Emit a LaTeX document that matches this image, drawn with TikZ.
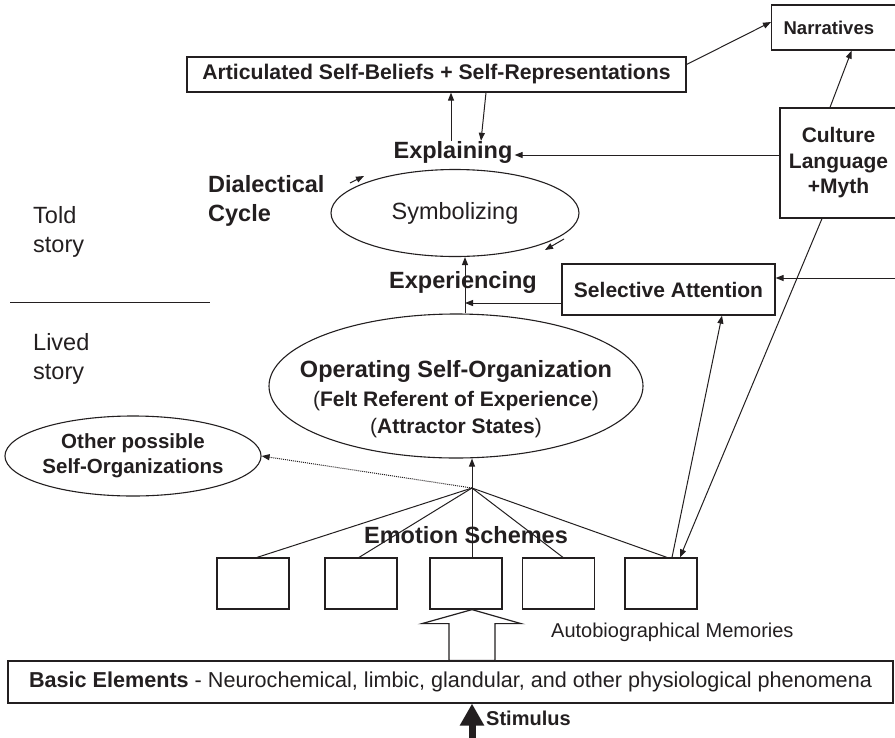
\documentclass[tikz,border=0pt]{standalone}
\usepackage{fontspec}
\setmainfont{Liberation Sans}
\usetikzlibrary{arrows.meta,calc,shapes.geometric}
\definecolor{ink}{HTML}{231F20}
\newcommand\fsz[2]{\fontsize{#1pt}{#2pt}\selectfont}
\begin{document}
\begin{tikzpicture}[x=1pt,y=-1pt,
  every node/.style={text=ink},
  box/.style={draw=ink, line width=1.2pt, inner sep=0pt, fill=white},
  ebox/.style={draw=ink, line width=1.2pt, minimum width=72pt, minimum height=51pt, inner sep=0pt},
  ell/.style={draw=ink, line width=1.1pt, ellipse, inner sep=0pt},
  lnk/.style={draw=ink, line width=1pt},
  arr/.style={draw=ink, line width=1pt, -{Triangle[length=8pt,width=6pt]}},
  lbl/.style={inner sep=0pt},
  bigb/.style={lbl, font=\fsz{23.5}{29}\bfseries},
  bigr/.style={lbl, font=\fsz{23.5}{29}}]
\clip (0,0) rectangle (895,737);
\fill[white] (0,0) rectangle (895,737);

% top boxes
\node[box, minimum width=499pt, minimum height=35pt, font=\fsz{21.2}{25}\bfseries] (art) at (436.5,74.5) {Articulated Self-Beliefs + Self-Representations};
\node[box, anchor=west, inner xsep=12pt, text width=102pt, align=left, minimum height=45pt, font=\fsz{18.5}{22}\bfseries] (nar) at (771,27.5) {Narratives};
\node[box, minimum width=117pt, minimum height=110pt, align=center, font=\fsz{21}{25.5}\bfseries] (cult) at (838.5,163) {Culture\\Language\\+Myth};
\node[box, minimum width=213pt, minimum height=51pt, font=\fsz{21}{25}\bfseries] (sel) at (668.5,289.5) {Selective Attention};

% symbolizing cycle
\node[ell, minimum width=248pt, minimum height=87pt, font=\fsz{23.5}{29}] (sym) at (455,213) {Symbolizing};
\node[bigb, inner xsep=2pt] (expl) at (453,152) {Explaining};
\node[bigb] (exper) at (463,282) {Experiencing};
\node[bigb, anchor=west, align=left] (dial) at (208,200.5) {Dialectical\\Cycle};

% left labels
\node[bigr, anchor=west, align=left] (told) at (33,232) {Told\\story};
\node[bigr, anchor=west, align=left] (lived) at (33,359) {Lived\\story};
\draw[ink, line width=1pt] (10,302) -- (210,302);

% operating self-organization
\node[ell, minimum width=374pt, minimum height=144pt] (ops) at (456,386) {};
\node[lbl, font=\fsz{23.5}{29}\bfseries] (ops1) at (456,371) {Operating Self-Organization};
\node[lbl, font=\fsz{21}{25}] (ops2) at (456,401) {(\textbf{Felt Referent of Experience})};
\node[lbl, font=\fsz{21}{25}] (ops3) at (456,428) {(\textbf{Attractor States})};

\node[ell, minimum width=252pt, minimum height=80pt, align=center, font=\fsz{20.5}{25}\bfseries] (oth) at (133,456) {Other possible\\Self-Organizations};

% emotion schemes
\node[bigb] (emo) at (466,535) {Emotion Schemes};
\node[ebox] (e1) at (253,583.5) {};
\node[ebox] (e2) at (361,583.5) {};
\node[ebox] (e3) at (466,583.5) {};
\node[ebox] (e4) at (558.5,583.5) {};
\node[ebox] (e5) at (661,583.5) {};

% basic elements
\node[box, minimum width=885pt, minimum height=42pt, font=\fsz{21.6}{25}] (basic) at (450.5,682) {\textbf{Basic Elements} - Neurochemical, limbic, glandular, and other physiological phenomena};
\node[lbl, anchor=west, font=\fsz{20}{24}] (auto) at (551,632) {Autobiographical Memories};
\node[lbl, anchor=west, font=\fsz{20}{24}\bfseries] (stim) at (486,718) {Stimulus};

% coordinates
\coordinate (hub) at (472,488);
\coordinate (vl) at ([xshift=9pt]ops.north);
\coordinate (sa) at ([yshift=-13.5pt]sel.west);
\coordinate (rin) at (900,278);
\coordinate (stim0) at (472,745);
\coordinate (ha) at (hub |- e3.south);
\coordinate (hb) at (hub |- basic.north);

% connectors
\draw[arr] ([yshift=10pt]art.east) -- ([yshift=5.5pt]nar.west);
\draw[arr] ([xshift=-2pt]expl.north) -- ([xshift=-2pt]expl.north |- art.south);
\draw[arr] ([xshift=49.5pt]art.south) -- ([xshift=28pt]expl.north);
\draw[arr] ([yshift=8pt]cult.west) -- ([yshift=8pt]cult.west -| expl.east);
\draw[arr] ([xshift=-8.5pt]cult.north) -- ([xshift=17pt]nar.south);
\draw[arr] ([xshift=-16.5pt]cult.south) -- ([xshift=19pt]e5.north);
\draw[arr] ([xshift=11pt]e5.north) -- ([xshift=53.5pt]sel.south);
\draw[arr] (rin) -- (rin -| sel.east);
\draw[arr] (vl) -- (vl |- sym.south);
\draw[arr] (sa) -- (sa -| vl);
\draw[arr] ($(sym.center)+(-105,-30)$) -- ($(sym.center)+(-91,-37)$);
\draw[arr] ($(sym.center)+(109,26)$) -- ($(sym.center)+(90,37)$);

\draw[arr] (hub) -- (hub |- ops.south);
\draw[arr, densely dotted] (hub) -- (oth.east);
\draw[lnk] (hub) -- ([xshift=4pt]e1.north);
\draw[lnk] (hub) -- ([xshift=-2pt]e2.north);
\draw[lnk] (hub) -- (hub |- e3.north);
\draw[lnk] (hub) -- ([xshift=4.5pt]e4.north);
\draw[lnk] (hub) -- ([xshift=6pt]e5.north);

% hollow arrow
\draw[ink, line width=1.2pt, fill=white] (ha) -- ($(ha)+(49,14)$) -- ($(ha)+(23,14)$) -- ($(hb)+(23,0)$) -- ($(hb)+(-23,0)$) -- ($(ha)+(-23,14)$) -- ($(ha)+(-50,14)$) -- cycle;

% stimulus arrow
\draw[ink, line width=7pt, -{Triangle[width=23pt,length=22pt]}] (stim0) -- (stim0 |- basic.south);
\end{tikzpicture}
\end{document}
